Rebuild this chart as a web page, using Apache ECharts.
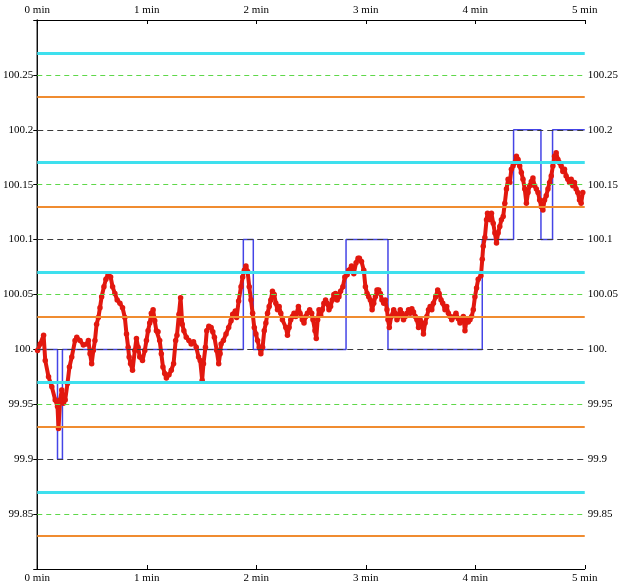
<!DOCTYPE html>
<html>
<head>
<meta charset="utf-8">
<script src="https://cdn.jsdelivr.net/npm/echarts@6/dist/echarts.min.js"></script>
<style>
  html, body { margin: 0; padding: 0; background: #ffffff; }
  #chart { width: 621px; height: 585px; }
</style>
</head>
<body>
<div id="chart"></div>
<script>
// Tick prices, time in minutes
const redTimes = [
  0.003,0.027,0.058,0.073,0.103,0.133,0.164,0.185,0.194,0.209,0.224,0.239,0.255,0.276,0.294,0.315,0.345,0.361,0.391,0.421,
  0.452,0.467,0.482,0.497,0.512,0.527,0.542,0.558,0.573,0.588,0.609,0.627,0.648,0.670,0.688,0.709,0.730,0.755,0.779,0.800,
  0.815,0.830,0.839,0.852,0.870,0.891,0.906,0.921,0.936,0.961,0.982,0.997,1.012,1.027,1.042,1.058,1.073,1.088,1.103,1.118,
  1.133,1.148,1.164,1.179,1.203,1.224,1.245,1.264,1.276,1.294,1.309,1.324,1.339,1.361,1.385,1.406,1.427,1.452,1.473,1.488,
  1.506,1.518,1.536,1.548,1.567,1.588,1.603,1.618,1.639,1.657,1.670,1.679,1.700,1.724,1.748,1.770,1.785,1.809,1.821,1.839,
  1.861,1.876,1.891,1.906,1.921,1.936,1.952,1.967,1.982,1.997,2.012,2.027,2.042,2.058,2.073,2.088,2.103,2.118,2.133,2.148,
  2.164,2.179,2.194,2.209,2.224,2.239,2.270,2.285,2.300,2.315,2.330,2.345,2.361,2.385,2.400,2.421,2.436,2.452,2.467,2.488,
  2.506,2.518,2.536,2.548,2.561,2.573,2.588,2.603,2.618,2.633,2.648,2.664,2.679,2.694,2.709,2.724,2.739,2.755,2.770,2.791,
  2.809,2.830,2.845,2.870,2.891,2.912,2.930,2.942,2.961,2.982,2.997,3.012,3.027,3.042,3.058,3.073,3.088,3.103,3.118,3.133,
  3.148,3.164,3.179,3.194,3.203,3.215,3.233,3.255,3.270,3.285,3.300,3.315,3.330,3.345,3.361,3.376,3.391,3.406,3.421,3.436,
  3.452,3.467,3.482,3.497,3.512,3.527,3.542,3.558,3.573,3.588,3.603,3.618,3.639,3.657,3.670,3.688,3.703,3.724,3.739,3.755,
  3.770,3.785,3.809,3.824,3.845,3.861,3.876,3.891,3.906,3.921,3.936,3.952,3.967,3.982,3.997,4.012,4.027,4.052,4.064,4.073,
  4.088,4.103,4.112,4.124,4.136,4.148,4.164,4.179,4.194,4.209,4.224,4.239,4.255,4.270,4.285,4.300,4.315,4.330,4.345,4.361,
  4.376,4.391,4.406,4.421,4.436,4.452,4.467,4.482,4.497,4.512,4.527,4.542,4.558,4.573,4.588,4.603,4.618,4.633,4.648,4.664,
  4.679,4.694,4.709,4.724,4.739,4.755,4.770,4.785,4.800,4.815,4.830,4.845,4.861,4.876,4.891,4.906,4.921,4.936,4.952,4.967,
  4.982
];
const redPrices = [
  99.999,100.005,100.013,99.990,99.975,99.966,99.954,99.948,99.928,99.954,99.963,99.951,99.954,99.969,99.984,99.993,100.008,100.011,100.008,100.004,
  100.005,100.008,99.996,99.987,99.999,100.008,100.023,100.029,100.038,100.048,100.057,100.064,100.069,100.066,100.057,100.051,100.045,100.042,100.038,100.029,
  100.014,100.002,99.993,99.987,99.981,99.999,100.010,100.002,99.993,99.990,99.999,100.008,100.017,100.024,100.033,100.036,100.026,100.017,100.016,100.008,
  99.996,99.984,99.978,99.974,99.977,99.981,99.987,100.008,100.013,100.032,100.047,100.023,100.017,100.011,100.008,100.005,100.007,100.002,99.993,99.990,
  99.972,99.987,100.002,100.017,100.021,100.020,100.016,100.011,99.999,99.987,99.996,100.005,100.008,100.014,100.020,100.026,100.032,100.035,100.029,100.044,
  100.057,100.066,100.072,100.076,100.071,100.057,100.045,100.033,100.020,100.014,100.008,100.002,99.996,100.002,100.017,100.024,100.033,100.039,100.045,100.053,
  100.050,100.042,100.036,100.039,100.033,100.027,100.020,100.013,100.020,100.027,100.030,100.033,100.030,100.039,100.033,100.027,100.024,100.030,100.033,100.036,
  100.033,100.027,100.017,100.010,100.027,100.036,100.031,100.036,100.042,100.045,100.042,100.036,100.039,100.045,100.050,100.051,100.045,100.048,100.053,100.057,
  100.066,100.068,100.072,100.076,100.069,100.079,100.083,100.083,100.080,100.072,100.057,100.051,100.048,100.045,100.036,100.042,100.048,100.054,100.054,100.051,
  100.045,100.042,100.045,100.036,100.027,100.020,100.030,100.036,100.033,100.027,100.030,100.036,100.033,100.027,100.030,100.033,100.036,100.033,100.037,100.034,
  100.030,100.027,100.020,100.027,100.024,100.014,100.024,100.030,100.036,100.039,100.036,100.042,100.048,100.054,100.051,100.045,100.042,100.036,100.039,100.033,
  100.030,100.027,100.030,100.033,100.028,100.024,100.027,100.030,100.017,100.027,100.025,100.027,100.030,100.036,100.048,100.056,100.064,100.067,100.082,100.094,
  100.102,100.118,100.124,100.121,100.118,100.124,100.115,100.106,100.097,100.106,100.112,100.118,100.121,100.133,100.146,100.155,100.152,100.164,100.167,100.170,
  100.176,100.173,100.167,100.161,100.155,100.146,100.133,100.143,100.149,100.153,100.156,100.149,100.146,100.143,100.136,100.130,100.127,100.136,100.140,100.146,
  100.152,100.158,100.167,100.176,100.179,100.173,100.170,100.167,100.162,100.164,100.158,100.155,100.152,100.155,100.149,100.152,100.146,100.143,100.136,100.133,
  100.143
];

// Quoted level: change times (min) and the level held from each time on
const stepTimes  = [0, 0.185, 0.23, 1.882, 1.973, 2.82, 3.203, 4.064, 4.35, 4.60, 4.706, 5];
const stepLevels = [100.0, 99.9, 100.0, 100.1, 100.0, 100.1, 100.0, 100.1, 100.2, 100.1, 100.2, 100.2];

// Horizontal reference levels
const cyanLevels   = [100.27, 100.17, 100.07, 99.97, 99.87];
const greenLevels  = [100.25, 100.15, 100.05, 99.95, 99.85];
const orangeLevels = [100.23, 100.13, 100.03, 99.93, 99.83];
const blackLevels  = [100.2, 100.1, 100.0, 99.9];

// Axis ranges and ticks
const timeTicks = [0, 1, 2, 3, 4, 5];
const priceMin = 99.8, priceMax = 100.3, priceStep = 0.05;

const FONT = 'Liberation Serif';

function priceLabel(v) {
  const r = Math.round(v * 100) / 100;
  if (r < 99.849 || r > 100.251) return '';
  if (Math.abs(r - 100) < 1e-9) return '100.';
  return String(r);
}

function levelLines(levels, style) {
  return {
    type: 'line',
    data: [],
    silent: true,
    markLine: {
      silent: true,
      symbol: 'none',
      label: { show: false },
      animation: false,
      lineStyle: style,
      data: levels.map(v => ({ yAxis: v }))
    }
  };
}

const chart = echarts.init(document.getElementById('chart'), null, { renderer: 'canvas' });

const axisCommon = {
  axisLine: { show: true, lineStyle: { color: '#000', width: 1 } },
  axisTick: { show: true, inside: true, length: 4, lineStyle: { color: '#000' } },
  splitLine: { show: false },
  axisLabel: { color: '#000', fontFamily: FONT, fontSize: 11 }
};

function xAxis(pos) {
  return Object.assign({}, axisCommon, {
    type: 'value', position: pos,
    min: timeTicks[0], max: timeTicks[timeTicks.length - 1], interval: 1,
    axisLabel: Object.assign({}, axisCommon.axisLabel, {
      margin: 4, formatter: v => v + ' min'
    })
  });
}
function yAxis(pos) {
  return Object.assign({}, axisCommon, {
    type: 'value', position: pos,
    min: priceMin, max: priceMax, interval: priceStep,
    axisLabel: Object.assign({}, axisCommon.axisLabel, {
      margin: pos === 'left' ? 4 : 3, formatter: priceLabel
    })
  });
}

const option = {
  animation: false,
  backgroundColor: '#ffffff',
  grid: { left: 37, right: 35, top: 20, bottom: 16 },
  xAxis: [xAxis('bottom'), xAxis('top')],
  yAxis: [yAxis('left'), yAxis('right')],
  series: [
    Object.assign(levelLines(cyanLevels, { color: '#3ee0ee', width: 3, type: 'solid' }), { z: 1 }),
    Object.assign(levelLines(orangeLevels, { color: '#f08c30', width: 2.2, type: 'solid' }), { z: 1 }),
    Object.assign(levelLines(greenLevels, { color: '#5fd84a', width: 1.2, type: [5, 4] }), { z: 1 }),
    {
      type: 'line',
      step: 'end',
      z: 2,
      silent: true,
      showSymbol: false,
      lineStyle: { color: '#4444e6', width: 1.5 },
      data: stepTimes.map((t, i) => [t, stepLevels[i]])
    },
    Object.assign(levelLines(blackLevels, { color: '#3a3a3a', width: 1.2, type: [6, 4] }), { z: 3 }),
    {
      type: 'line',
      z: 4,
      silent: true,
      symbol: 'circle',
      symbolSize: 5.5,
      showSymbol: true,
      itemStyle: { color: '#e2180f' },
      lineStyle: { color: '#e2180f', width: 4 },
      data: redTimes.map((t, i) => [t, redPrices[i]])
    }
  ]
};

chart.setOption(option);
</script>
</body>
</html>
